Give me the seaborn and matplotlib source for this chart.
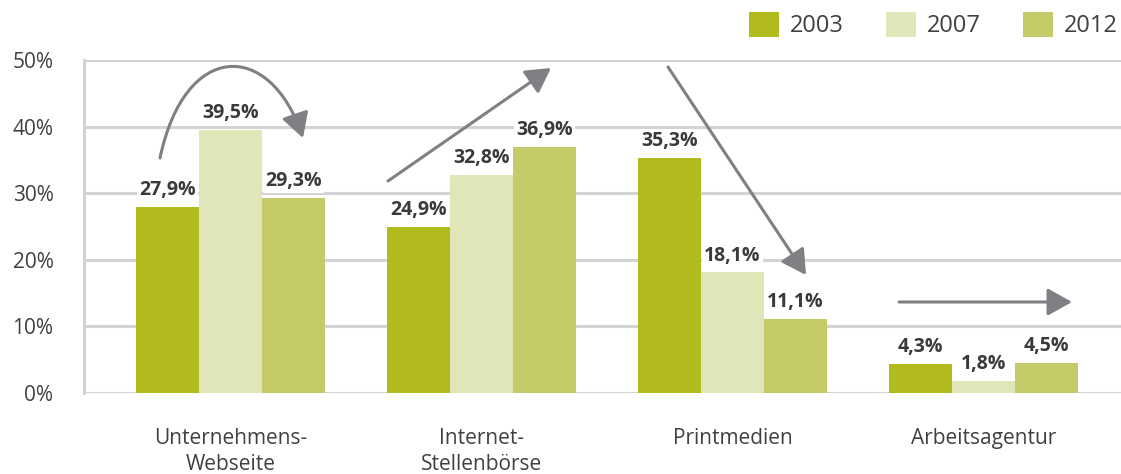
import matplotlib
matplotlib.use("Agg")
import matplotlib.pyplot as plt
from matplotlib.patches import FancyArrowPatch
from matplotlib.path import Path
import seaborn as sns
import pandas as pd

categories = ["Unternehmens-\nWebseite", "Internet-\nStellenbörse", "Printmedien", "Arbeitsagentur"]
years = ["2003", "2007", "2012"]
values_2003 = [27.9, 24.9, 35.3, 4.3]
values_2007 = [39.5, 32.8, 18.1, 1.8]
values_2012 = [29.3, 36.9, 11.1, 4.5]
y_ticks = [0, 10, 20, 30, 40, 50]
colors = ["#b2bb1e", "#e1e6b9", "#c5cb68"]

rows = []
for year, vals in zip(years, [values_2003, values_2007, values_2012]):
    for cat, v in zip(categories, vals):
        rows.append({"Kategorie": cat, "Jahr": year, "Anteil": v})
df = pd.DataFrame(rows)

sns.set_theme(style="white")
plt.rcParams["font.family"] = ["Open Sans", "DejaVu Sans"]

W, H = 1121, 474
fig = plt.figure(figsize=(W / 100, H / 100), dpi=100)
ax = fig.add_axes([84 / W, 81 / H, 1 - 84 / W, 333 / H])

sns.barplot(data=df, x="Kategorie", y="Anteil", hue="Jahr", order=categories,
            hue_order=years, palette=colors, width=0.753, gap=0, saturation=1,
            edgecolor="none", linewidth=0, ax=ax, zorder=3)

ax.set_xlim((84 - 230.5) / 251, (1121 - 230.5) / 251)
ax.set_ylim(0, 50)
ax.set_yticks(y_ticks)
ax.set_yticklabels([f"{t}%" for t in y_ticks])
ax.grid(axis="y", color="#d3d3d3", linewidth=2.2, zorder=0)
ax.grid(axis="x", visible=False)
ax.set_axisbelow(True)
for side in ["top", "right", "bottom"]:
    ax.spines[side].set_visible(False)
ax.spines["left"].set_color("#d3d3d3")
ax.spines["left"].set_linewidth(2.2)
ax.tick_params(axis="y", length=0, pad=22, labelsize=15, labelcolor="#404040")
ax.tick_params(axis="x", length=0, pad=25, labelsize=15, labelcolor="#404040")
for lbl in ax.get_xticklabels():
    lbl.set_linespacing(1.3)
ax.set_xlabel("")
ax.set_ylabel("")

# value labels above each bar
for container in ax.containers:
    labels = [f"{v:.1f}".replace(".", ",") + "%" for v in container.datavalues]
    texts = ax.bar_label(container, labels=labels, padding=5, fontsize=14,
                         fontweight="bold", color="#3a3a3a", zorder=4)
    for t in texts:
        t.set_bbox(dict(facecolor="white", edgecolor="none", pad=1.5))

# trend arrows
arrow_kw = dict(arrowstyle="-|>,head_length=0.75,head_width=0.42", color="#7f8084",
                lw=2.2, mutation_scale=20, shrinkA=0, shrinkB=0)


def px(x, y):
    return ((x - 230.5) / 251, (393 - y) / 333 * 50)


curve = Path([px(160, 158), px(185, 40), px(270, 40), px(303, 138)],
             [Path.MOVETO, Path.CURVE4, Path.CURVE4, Path.CURVE4])
ax.add_patch(FancyArrowPatch(path=curve, transform=ax.transData, zorder=5, **arrow_kw))
ax.annotate("", xy=px(551, 68), xytext=px(388, 181), arrowprops=arrow_kw, zorder=5)
ax.annotate("", xy=px(806, 275), xytext=px(668, 67), arrowprops=arrow_kw, zorder=5)
ax.annotate("", xy=px(1072, 302), xytext=px(899, 302), arrowprops=arrow_kw, zorder=5)

handles, labels = ax.get_legend_handles_labels()
leg = ax.legend(handles, labels, loc="center right", bbox_to_anchor=(1118 / W, 1 - 25 / H),
                bbox_transform=fig.transFigure, ncol=3, frameon=False, fontsize=17,
                handlelength=1.27, handleheight=1.27, handletextpad=0.47, columnspacing=1.78,
                borderaxespad=0, borderpad=0)
for t in leg.get_texts():
    t.set_color("#404040")

fig.savefig("out.png", dpi=100)
